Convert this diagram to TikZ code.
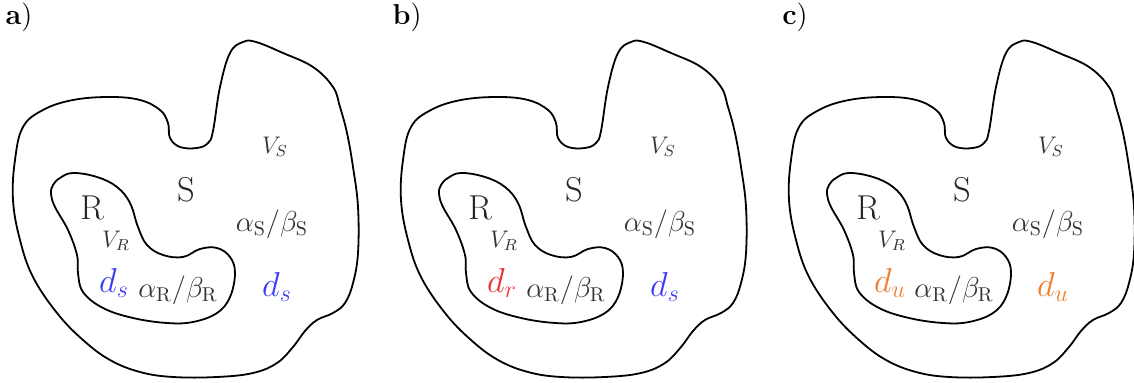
\documentclass[tikz,border=0pt]{standalone}
\usepackage{amsmath,amssymb}
\usepackage{xcolor}
\usetikzlibrary{calc}

\definecolor{dblue}{RGB}{60,60,245}
\definecolor{dred}{RGB}{235,50,50}
\definecolor{dorange}{RGB}{240,125,45}

\begin{document}
\begin{tikzpicture}[
    x=0.5pt, y=-0.5pt,
    outline/.style={draw=black, line width=0.9pt},
    region/.style={font=\LARGE, text=black!85},
    param/.style={font=\Large, text=black!80},
    vol/.style={font=\large, text=black!80},
    dlab/.style={font=\LARGE},
    tag/.style={font=\Large, inner sep=0pt},
    panel/.pic={
        % outer domain S
        \draw[outline] plot[smooth cycle, tension=0.65] coordinates {
            (23,127) (43,110) (73,100) (110,97) (140,100) (160,110) (168,123)
            (170,138) (180,147) (197,148) (208,143) (213,131) (220,87)
            (230,53) (243,42) (256,42) (283,53) (313,67) (333,87) (340,107)
            (347,133) (353,167) (358,207) (358,253) (353,283) (345,303)
            (333,313) (317,320) (305,331) (293,347) (277,363) (253,373)
            (217,377) (173,377) (140,372) (110,360) (83,340) (57,313)
            (33,277) (20,240) (13,200) (15,160)};
        % inner domain R
        \draw[outline] plot[smooth cycle, tension=0.65] coordinates {
            (53,185) (60,178) (73,173) (97,177) (117,187) (130,203) (138,227)
            (147,245) (163,255) (183,257) (200,249) (217,248) (230,257)
            (235,273) (230,297) (217,313) (193,322) (167,323) (133,318)
            (103,308) (83,292) (78,273) (77,255) (68,230) (55,207) (51,194)};
        \node[region] (-R) at (92,208) {R};
        \node[region] (-S) at (186,190) {S};
        \node[vol] (-VS) at (275,147) {$V_S$};
        \node[vol] (-VR) at (116,241) {$V_R$};
        \node[param] (-abS) at (272,224) {$\alpha_{\mathrm{S}}/\beta_{\mathrm{S}}$};
        \node[param] (-abR) at (178,290) {$\alpha_{\mathrm{R}}/\beta_{\mathrm{R}}$};
    }
]
    \useasboundingbox (0,0) rectangle (1134,383);

    \pic (a) at (0,0) {panel};
    \pic (b) at (388,0) {panel};
    \pic (c) at (776,0) {panel};

    \node[tag] (ta) at (19,17) {\textbf{a})};
    \node[tag] (tb) at (407,17) {\textbf{b})};
    \node[tag] (tc) at (795,17) {\textbf{c})};

    \node[dlab, text=dblue] (a-din) at (114,283) {$d_s$};
    \node[dlab, text=dblue] (a-dout) at (277,287) {$d_s$};
    \node[dlab, text=dred] (b-din) at (502,283) {$d_r$};
    \node[dlab, text=dblue] (b-dout) at (665,287) {$d_s$};
    \node[dlab, text=dorange] (c-din) at (890,283) {$d_u$};
    \node[dlab, text=dorange] (c-dout) at (1053,287) {$d_u$};
\end{tikzpicture}
\end{document}
